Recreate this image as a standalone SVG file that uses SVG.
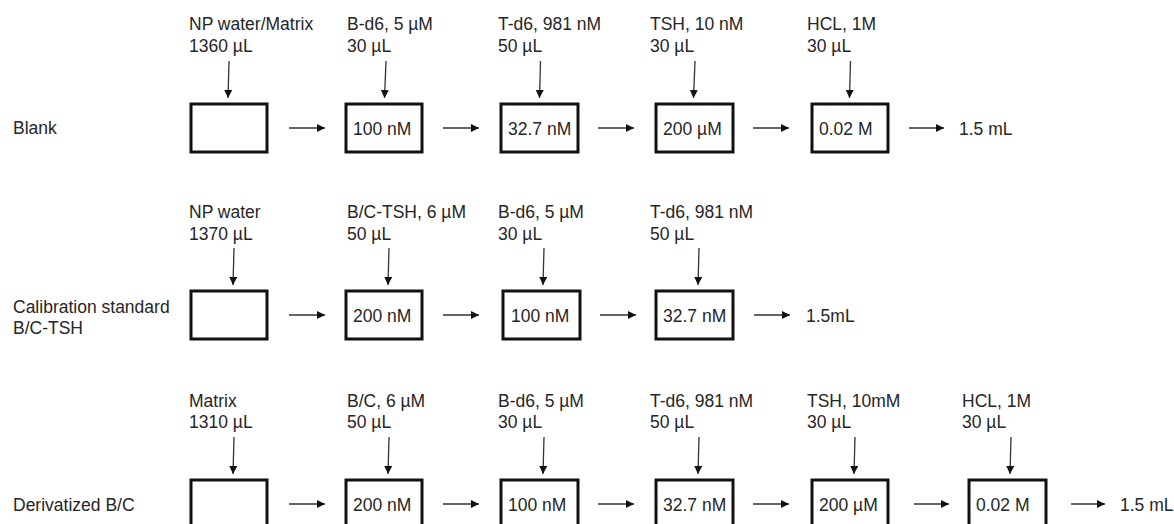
<svg xmlns="http://www.w3.org/2000/svg" width="1174" height="524" viewBox="0 0 1174 524">
<style>
text{font-family:"Liberation Sans",Arial,sans-serif;font-size:17.5px;fill:#262626}
.box{fill:#fff;stroke:#111;stroke-width:3}
.arr{stroke:#333;stroke-width:1.3;fill:none;marker-end:url(#ah)}
</style>
<defs>
<marker id="ah" markerUnits="userSpaceOnUse" markerWidth="9" markerHeight="8" refX="8" refY="4" orient="auto">
<path d="M0,0 L8,4 L0,8 z" fill="#111"/>
</marker>
</defs>
<rect width="1174" height="524" fill="#fff"/>
<g id="row-labels">
<text x="13" y="134">Blank</text>
<text x="13" y="313">Calibration standard</text>
<text x="13" y="334">B/C-TSH</text>
<text x="13" y="511">Derivatized B/C</text>
</g>
<!-- Row 1 -->
<g id="r1n1"><text x="189" y="30">NP water/Matrix</text><text x="189" y="52">1360 µL</text><rect class="box" x="191" y="104" width="76" height="48"/></g>
<g id="r1n2"><text x="347" y="30">B-d6, 5 µM</text><text x="347" y="52">30 µL</text><rect class="box" x="346" y="104" width="76" height="48"/><text x="353" y="135">100 nM</text></g>
<g id="r1n3"><text x="498" y="30">T-d6, 981 nM</text><text x="498" y="52">50 µL</text><rect class="box" x="501" y="104" width="77" height="48"/><text x="508" y="135">32.7 nM</text></g>
<g id="r1n4"><text x="650" y="30">TSH, 10 nM</text><text x="650" y="52">30 µL</text><rect class="box" x="656" y="104" width="77" height="48"/><text x="663" y="135">200 µM</text></g>
<g id="r1n5"><text x="807" y="30">HCL, 1M</text><text x="807" y="52">30 µL</text><rect class="box" x="812" y="104" width="76" height="48"/><text x="819" y="135">0.02 M</text></g>
<g id="r1out"><text x="959" y="135">1.5 mL</text></g>
<!-- Row 2 -->
<g id="r2n1"><text x="189" y="218">NP water</text><text x="189" y="240">1370 µL</text><rect class="box" x="191" y="291" width="76" height="48"/></g>
<g id="r2n2"><text x="347" y="218">B/C-TSH, 6 µM</text><text x="347" y="240">50 µL</text><rect class="box" x="346" y="291" width="76" height="48"/><text x="353" y="322">200 nM</text></g>
<g id="r2n3"><text x="498" y="218">B-d6, 5 µM</text><text x="498" y="240">30 µL</text><rect class="box" x="503" y="291" width="77" height="48"/><text x="511" y="322">100 nM</text></g>
<g id="r2n4"><text x="650" y="218">T-d6, 981 nM</text><text x="650" y="240">50 µL</text><rect class="box" x="656" y="291" width="77" height="48"/><text x="663" y="322">32.7 nM</text></g>
<g id="r2out"><text x="806" y="322">1.5mL</text></g>
<!-- Row 3 -->
<g id="r3n1"><text x="189" y="407">Matrix</text><text x="189" y="428">1310 µL</text><rect class="box" x="191" y="480" width="76" height="48"/></g>
<g id="r3n2"><text x="347" y="407">B/C, 6 µM</text><text x="347" y="428">50 µL</text><rect class="box" x="346" y="480" width="76" height="48"/><text x="353" y="511">200 nM</text></g>
<g id="r3n3"><text x="498" y="407">B-d6, 5 µM</text><text x="498" y="428">30 µL</text><rect class="box" x="501" y="480" width="77" height="48"/><text x="508" y="511">100 nM</text></g>
<g id="r3n4"><text x="650" y="407">T-d6, 981 nM</text><text x="650" y="428">50 µL</text><rect class="box" x="656" y="480" width="77" height="48"/><text x="663" y="511">32.7 nM</text></g>
<g id="r3n5"><text x="807" y="407">TSH, 10mM</text><text x="807" y="428">30 µL</text><rect class="box" x="812" y="480" width="76" height="48"/><text x="819" y="511">200 µM</text></g>
<g id="r3n6"><text x="962" y="407">HCL, 1M</text><text x="962" y="428">30 µL</text><rect class="box" x="969" y="480" width="77" height="48"/><text x="976" y="511">0.02 M</text></g>
<g id="r3out"><text x="1120" y="511">1.5 mL</text></g>
<g id="connectors">
<!-- row 1 vertical -->
<line class="arr" x1="229" y1="61" x2="228" y2="98"/>
<line class="arr" x1="386" y1="61" x2="384.5" y2="98"/>
<line class="arr" x1="540.5" y1="61" x2="539.5" y2="98"/>
<line class="arr" x1="695" y1="61" x2="693.5" y2="98"/>
<line class="arr" x1="850.5" y1="61" x2="849.5" y2="98"/>
<!-- row 1 horizontal -->
<line class="arr" x1="289" y1="128" x2="325" y2="128"/>
<line class="arr" x1="443" y1="128" x2="479" y2="128"/>
<line class="arr" x1="598" y1="128" x2="634" y2="128"/>
<line class="arr" x1="753" y1="128" x2="789" y2="128"/>
<line class="arr" x1="909" y1="128" x2="944" y2="128"/>
<!-- row 2 vertical -->
<line class="arr" x1="234" y1="248" x2="233" y2="285"/>
<line class="arr" x1="389" y1="248" x2="388" y2="285"/>
<line class="arr" x1="544" y1="248" x2="543" y2="285"/>
<line class="arr" x1="699" y1="248" x2="698" y2="285"/>
<!-- row 2 horizontal -->
<line class="arr" x1="289" y1="315" x2="325" y2="315"/>
<line class="arr" x1="443" y1="315" x2="479" y2="315"/>
<line class="arr" x1="600" y1="315" x2="636" y2="315"/>
<line class="arr" x1="754" y1="315" x2="790" y2="315"/>
<!-- row 3 vertical -->
<line class="arr" x1="234" y1="437" x2="233" y2="474"/>
<line class="arr" x1="389" y1="437" x2="388" y2="474"/>
<line class="arr" x1="544" y1="437" x2="543" y2="474"/>
<line class="arr" x1="699" y1="437" x2="698" y2="474"/>
<line class="arr" x1="855" y1="437" x2="854" y2="474"/>
<line class="arr" x1="1011" y1="437" x2="1010" y2="474"/>
<!-- row 3 horizontal -->
<line class="arr" x1="289" y1="504" x2="325" y2="504"/>
<line class="arr" x1="443" y1="504" x2="479" y2="504"/>
<line class="arr" x1="598" y1="504" x2="634" y2="504"/>
<line class="arr" x1="753" y1="504" x2="789" y2="504"/>
<line class="arr" x1="914" y1="504" x2="949" y2="504"/>
<line class="arr" x1="1071" y1="504" x2="1105" y2="504"/>
</g>
</svg>
